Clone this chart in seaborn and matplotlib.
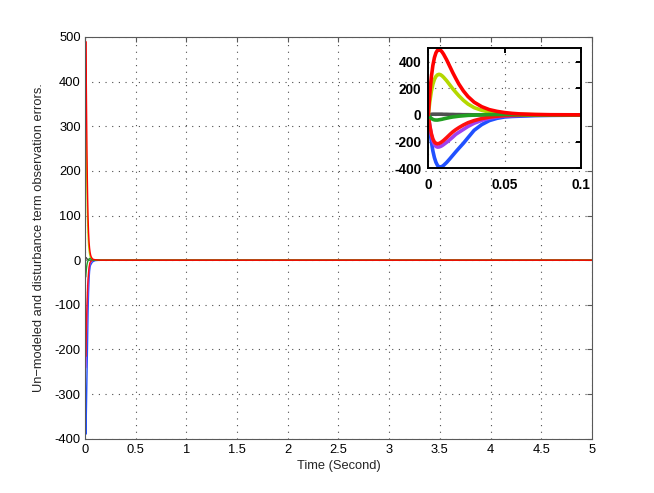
import numpy as np
import pandas as pd
import matplotlib
matplotlib.use('Agg')
import matplotlib.pyplot as plt
import seaborn as sns
from matplotlib.ticker import FuncFormatter

# time samples (s) and observation error curves
t = [0, 0.001, 0.002, 0.003, 0.004, 0.005, 0.006, 0.007, 0.008, 0.009, 0.010,
     0.012, 0.014, 0.016, 0.018, 0.020, 0.023, 0.026, 0.030, 0.035, 0.040,
     0.045, 0.050, 0.055, 0.060, 0.070, 0.080, 0.100, 0.150, 0.200, 5.000]

err_gray = [0, 3, 5, 6, 6, 6, 6, 6, 6, 6, 5, 5, 4, 4, 3, 3, 2, 2, 1, 1, 0,
            0, 0, 0, 0, 0, 0, 0, 0, 0, 0]
err_blue = [0, -110, -200, -270, -320, -355, -378, -389, -390, -386, -378,
            -356, -330, -303, -276, -250, -212, -170, -115, -72, -42,
            -25, -15, -11, -9, -5, -3, -1, 0, 0, 0]
err_purple = [0, -85, -150, -195, -222, -236, -241, -240, -236, -230, -222,
              -205, -186, -166, -145, -130, -108, -86, -62, -40, -24,
              -14, -8, -5, -3, -1, 0, 0, 0, 0, 0]
err_red2 = [0, -80, -140, -180, -203, -213, -216, -214, -208, -200, -191,
            -170, -148, -127, -110, -95, -75, -58, -42, -27, -16,
            -9, -5, -3, -2, -1, 0, 0, 0, 0, 0]
err_yellow = [0, 102, 177, 231, 267, 289, 301, 305, 302, 294, 283,
              257, 227, 197, 170, 144, 110, 82, 55, 35, 22,
              14, 9, 6, 4, 2, 1, 0, 0, 0, 0]
err_green = [0, -15, -26, -33, -37, -38, -38, -36, -34, -32, -29,
             -24, -19, -15, -12, -9, -6, -3, -1, 1, 3,
             4, 4, 3, 2, 1, 0, 0, 0, 0, 0]
err_red1 = [0, 165, 286, 372, 430, 466, 485, 490, 486, 473, 456,
            414, 366, 318, 274, 232, 180, 138, 96, 62, 40,
            27, 18, 12, 8, 4, 2, 1, 0, 0, 0]

series = {
    'e7': err_gray,
    'e6': err_blue,
    'e5': err_purple,
    'e4': err_red2,
    'e2': err_yellow,
    'e3': err_green,
    'e1': err_red1,
}
colors = {
    'e7': '#505050',
    'e6': '#2050ff',
    'e5': '#a040f0',
    'e4': '#ff1010',
    'e2': '#b4d800',
    'e3': '#22a022',
    'e1': '#ff0000',
}

df = pd.concat(
    [pd.DataFrame({'t': t, 'err': v, 'signal': k}) for k, v in series.items()],
    ignore_index=True,
)

sns.set_theme(style='white')
plt.rcParams['font.family'] = ['Liberation Sans', 'DejaVu Sans']
plt.rcParams['axes.unicode_minus'] = True

fmt = FuncFormatter(lambda v, p: '%g' % v)


def matlab_axes(ax, lw, edge):
    for s in ax.spines.values():
        s.set_visible(True)
        s.set_color(edge)
        s.set_linewidth(lw)
    ax.tick_params(direction='in', top=True, right=True, length=3.5,
                   width=lw, color=edge, pad=3)
    ax.grid(True, color='0.3', linestyle=(0, (1, 5)), linewidth=0.8)
    ax.set_axisbelow(True)


fig = plt.figure(figsize=(6.54, 4.93), dpi=100)
fig.patch.set_facecolor('white')

ax = fig.add_axes([0.13, 0.11, 0.775, 0.815])
sns.lineplot(data=df, x='t', y='err', hue='signal', hue_order=list(series),
             palette=colors, estimator=None, sort=False, linewidth=1.0,
             legend=False, ax=ax)
ax.set_xlim(0, 5)
ax.set_ylim(-400, 500)
ax.set_xticks(np.arange(0, 5.01, 0.5))
ax.set_yticks(np.arange(-400, 501, 100))
ax.xaxis.set_major_formatter(fmt)
ax.yaxis.set_major_formatter(fmt)
matlab_axes(ax, 0.8, '0.35')
ax.tick_params(labelsize=9.3, labelcolor='black')
ax.tick_params(axis='x', pad=4)
ax.set_xlabel('Time (Second)', fontsize=9.3, labelpad=3)
ax.set_ylabel('Un\u2212modeled and disturbance term observation errors.',
              fontsize=9.3, labelpad=7)

axin = fig.add_axes([0.6549, 0.6586, 0.2335, 0.2434])
axin.set_facecolor('white')
sns.lineplot(data=df, x='t', y='err', hue='signal', hue_order=list(series),
             palette=colors, estimator=None, sort=False, linewidth=2.6,
             legend=False, ax=axin)
axin.set_xlim(0, 0.1)
axin.set_ylim(-400, 500)
axin.set_xticks([0, 0.05, 0.1])
axin.set_yticks([-400, -200, 0, 200, 400])
axin.xaxis.set_major_formatter(fmt)
axin.yaxis.set_major_formatter(fmt)
matlab_axes(axin, 1.4, 'black')
axin.tick_params(labelsize=9.8, labelcolor='black')
axin.tick_params(axis='x', pad=7)
axin.tick_params(axis='y', pad=5)
for lbl in axin.get_xticklabels() + axin.get_yticklabels():
    lbl.set_fontweight('bold')
axin.set_xlabel('')
axin.set_ylabel('')

fig.savefig('out.png', dpi=100)
